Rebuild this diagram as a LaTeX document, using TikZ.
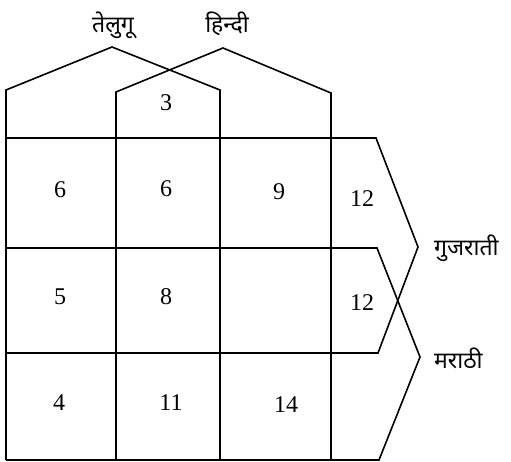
\documentclass[tikz,border=0pt]{standalone}
\usepackage{fontspec}
\newfontfamily\deva[Script=Devanagari]{Noto Sans}
\newfontfamily\numfont{Liberation Serif}
\begin{document}
\begin{tikzpicture}[x=1pt,y=-1pt,
  setline/.style={line width=1.6pt,line join=miter},
  num/.style={font=\numfont\fontsize{24}{28}\selectfont,inner sep=0pt},
  lab/.style={font=\deva\fontsize{23}{26}\selectfont,inner sep=0pt}]
\useasboundingbox (0,0) rectangle (511,462);
% set outlines
\draw[setline] (6,460) -- (6,90) -- (112,47) -- (220,90) -- (220,460);
\draw[setline] (116,460) -- (116,92) -- (223,48) -- (331,93) -- (331,460);
\draw[setline] (6,138) -- (376,138) -- (418,247) -- (378,353) -- (6,353);
\draw[setline] (6,248) -- (377,248) -- (420,357) -- (379,460) -- (6,460);
% labels
\node[lab] (telugu) at (113,25) {तेलुगू};
\node[lab] (hindi) at (227,24) {हिन्दी};
\node[lab,anchor=west] (gujarati) at (434,248) {गुजराती};
\node[lab,anchor=west] (marathi) at (434,358) {मराठी};
% numbers
\node[num] (n3) at (166,103) {3};
\node[num] (n6a) at (60,190) {6};
\node[num] (n6b) at (166,189) {6};
\node[num] (n9) at (279,192) {9};
\node[num] (n12a) at (362,199) {12};
\node[num] (n5) at (60,297) {5};
\node[num] (n8) at (166,297) {8};
\node[num] (n12b) at (362,303) {12};
\node[num] (n4) at (59,403) {4};
\node[num] (n11) at (171,403) {11};
\node[num] (n14) at (286,405) {14};
\end{tikzpicture}
\end{document}
